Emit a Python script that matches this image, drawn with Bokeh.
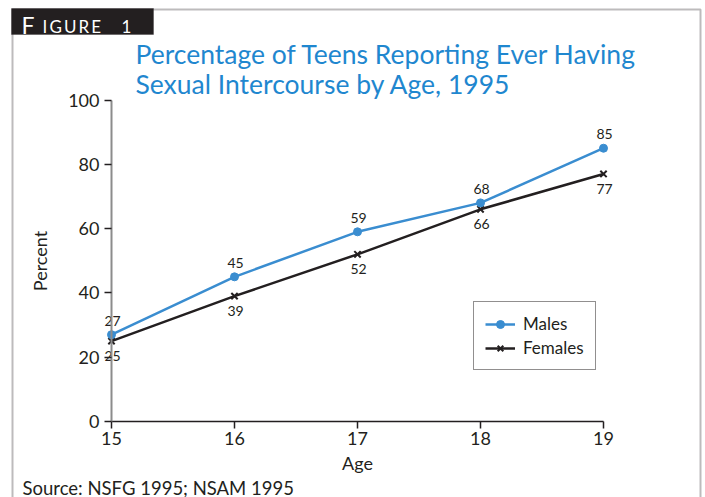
from bokeh.plotting import figure
from bokeh.models import Label, BoxAnnotation, Legend, LegendItem, ColumnDataSource, FixedTicker, Range1d
from bokeh.core.properties import value
from bokeh.embed import file_html
from bokeh.resources import INLINE

ages = [15, 16, 17, 18, 19]
males = [27, 45, 59, 68, 85]
females = [25, 39, 52, 66, 77]
y_ticks = [0, 20, 40, 60, 80, 100]
title_lines = ["Percentage of Teens Reporting Ever Having", "Sexual Intercourse by Age, 1995"]
source_note = "Source: NSFG 1995; NSAM 1995"

FONT = "Lato"
BLUE_T = "#1f87cf"
BLUE = "#3a8dd0"
DARK = "#231f20"

W, H = 705, 497
FL, FR, FT, FB = 5, 705, 3, 497          # frame edges (px)
PX15, PX19, PY0, PY100 = 111, 603, 421, 99.5   # where the axes land (px)

xs = (PX19 - PX15) / (ages[-1] - ages[0])
ys = (PY0 - PY100) / (y_ticks[-1] - y_ticks[0])
x_range = Range1d(ages[0] - (PX15 - FL) / xs, ages[-1] + (FR - PX19) / xs)
y_range = Range1d(y_ticks[0] - (FB - PY0) / ys, y_ticks[-1] + (PY100 - FT) / ys)

p = figure(width=W, height=H, output_backend="svg", toolbar_location=None,
           x_range=x_range, y_range=y_range,
           min_border_left=FL, min_border_right=W - FR, min_border_top=FT, min_border_bottom=H - FB)
p.outline_line_color = None
p.grid.visible = False
p.background_fill_color = "white"
p.border_fill_color = "white"

xa, ya = p.xaxis[0], p.yaxis[0]
xa.fixed_location = y_ticks[0]
xa.bounds = (ages[0], ages[-1])
ya.fixed_location = ages[0]
ya.bounds = (y_ticks[0], y_ticks[-1])

for ax in (xa, ya):
    ax.major_tick_line_color = DARK
    ax.major_tick_line_width = 1.5
    ax.major_tick_out = 7
    ax.major_tick_in = 0
    ax.minor_tick_line_color = None
    ax.major_label_text_font = FONT
    ax.major_label_text_font_size = "18px"
    ax.major_label_text_color = DARK
    ax.axis_label_text_font = FONT
    ax.axis_label_text_font_size = "18px"
    ax.axis_label_text_color = DARK
    ax.axis_label_text_font_style = "normal"

xa.axis_line_color = DARK
xa.axis_line_width = 1.5
ya.axis_line_color = "#8c8c8c"
ya.axis_line_width = 2

xa.ticker = FixedTicker(ticks=ages)
ya.ticker = FixedTicker(ticks=y_ticks)
xa.axis_label = "Age"
ya.axis_label = "Percent"
xa.major_label_standoff = 3
xa.axis_label_standoff = 4
ya.major_label_standoff = 5
ya.axis_label_standoff = 14

src = ColumnDataSource(dict(age=ages, m=males, f=females,
                            ml=[str(v) for v in males], fl=[str(v) for v in females]))

fl = p.line("age", "f", source=src, line_color=DARK, line_width=2.5)
fx = p.scatter("age", "f", source=src, marker="x", size=9, line_color=DARK, line_width=2)
ml = p.line("age", "m", source=src, line_color=BLUE, line_width=2.5)
mc = p.scatter("age", "m", source=src, marker="circle", size=8, fill_color=BLUE, line_color=BLUE)

p.text("age", "m", text="ml", source=src, text_font=value(FONT), text_font_size="14px",
       text_color=DARK, text_align="center", text_baseline="middle", y_offset=-14, x_offset=1)
p.text("age", "f", text="fl", source=src, text_font=value(FONT), text_font_size="14px",
       text_color=DARK, text_align="center", text_baseline="middle", y_offset=15, x_offset=1)

# annotation coordinates are frame-relative screen px: sx = X - FL, sy = FB - Y
def sx(X):
    return X - FL
def sy(Y):
    return FB - Y

legend = Legend(items=[LegendItem(label="Males", renderers=[ml, mc]),
                       LegendItem(label="Females", renderers=[fl, fx])],
                location=(sx(473), sy(370)), border_line_color=DARK, border_line_width=1.5,
                label_text_font=FONT, label_text_font_size="17px", label_text_color=DARK,
                glyph_width=30, label_standoff=8, spacing=3, padding=11, margin=0,
                background_fill_alpha=1)
p.add_layout(legend, "center")

box_units = dict(left_units="screen", right_units="screen", top_units="screen", bottom_units="screen")
p.add_layout(BoxAnnotation(left=sx(12), right=sx(700), top=sy(9), bottom=sy(530), fill_alpha=0,
                           line_color=DARK, line_width=2, **box_units))
p.add_layout(BoxAnnotation(left=sx(11), right=sx(153), top=sy(8), bottom=sy(34), fill_color=DARK,
                           fill_alpha=1, line_color=DARK, line_width=1, **box_units))

def label(X, Y, text, size, color):
    p.add_layout(Label(x=sx(X), y=sy(Y), x_units="screen", y_units="screen", text=text,
                       text_font=FONT, text_font_size=size, text_color=color, text_baseline="middle"))

label(21, 24, "F", "23px", "white")
label(42, 26, "I\u2009G\u2009U\u2009R\u2009E", "17px", "white")
label(121, 26, "1", "17px", "white")

for i, line in enumerate(title_lines):
    label(135, 53 + 30 * i, line, "26.5px", BLUE_T)

label(22, 487, source_note, "18.5px", DARK)

open("out.html", "w").write(file_html(p, INLINE))
